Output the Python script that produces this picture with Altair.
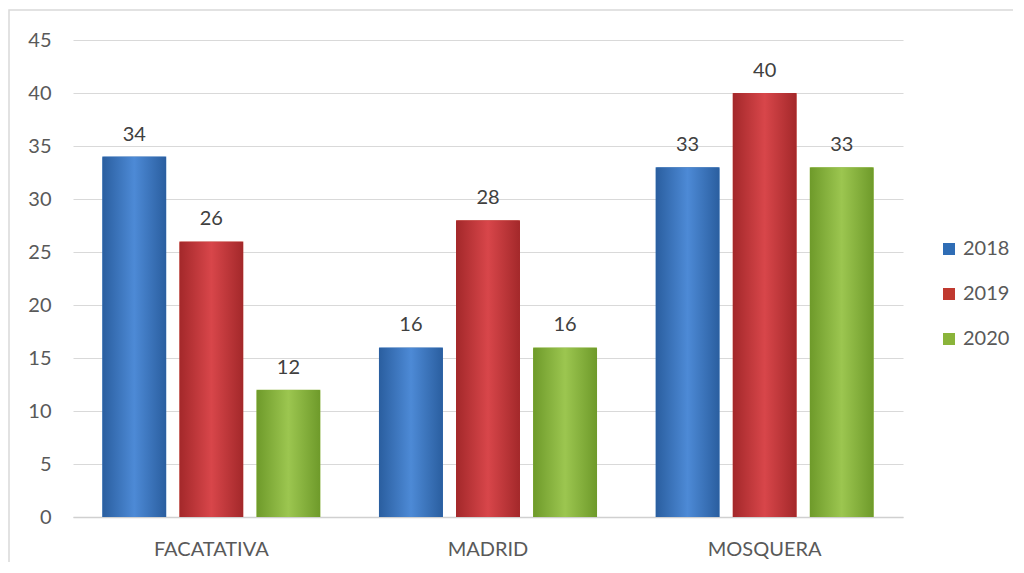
import altair as alt
import pandas as pd

municipios = ["FACATATIVA", "MADRID", "MOSQUERA"]
years = ["2018", "2019", "2020"]
v2018 = [34, 16, 33]
v2019 = [26, 28, 40]
v2020 = [12, 16, 33]
legend_colors = ["#2F6DB5", "#C0392F", "#8AB43A"]
gradients = {
    "2018": ["#2A5E9F", "#4D8AD6", "#2A5E9F"],
    "2019": ["#A3282A", "#D8464A", "#A3282A"],
    "2020": ["#6E9A2A", "#9CC650", "#6E9A2A"],
}

rows = []
for i, m in enumerate(municipios):
    for y, vals in zip(years, [v2018, v2019, v2020]):
        rows.append({"municipio": m, "anio": y, "valor": vals[i]})
df = pd.DataFrame(rows)

FONT = "Lato"
GRAY = "#595959"
FS = 20

x = alt.X("municipio:N", sort=municipios,
          scale=alt.Scale(paddingInner=0, paddingOuter=0),
          axis=alt.Axis(title=None, labelAngle=0, labelFontSize=FS, labelColor=GRAY,
                        labelFont=FONT, labelPadding=22, ticks=False, grid=False,
                        domainColor="#D0D0D0", domainWidth=1.5))
xo = alt.XOffset("anio:N", sort=years,
                 scale=alt.Scale(paddingInner=0.17, paddingOuter=0.38))
y = alt.Y("valor:Q", scale=alt.Scale(domain=[0, 45]),
          axis=alt.Axis(title=None, values=list(range(0, 50, 5)), domain=False, ticks=False,
                        labelFontSize=FS, labelColor=GRAY, labelFont=FONT, labelPadding=22,
                        gridColor="#D9D9D9", gridWidth=1))

base = alt.Chart(df)

bars = base.mark_bar().encode(
    x=x, xOffset=xo, y=y,
    color=alt.Color("anio:N", sort=years,
                    scale=alt.Scale(domain=years, range=legend_colors),
                    legend=alt.Legend(title=None, orient="none", legendX=866, legendY=199,
                                      symbolType="square", symbolSize=144,
                                      symbolStrokeWidth=0,
                                      labelFontSize=FS, labelColor=GRAY, labelFont=FONT,
                                      rowPadding=25, labelOffset=4)),
)

layers = [bars]
for yr in years:
    g = gradients[yr]
    grad = alt.LinearGradient(
        gradient="linear",
        stops=[alt.GradientStop(color=g[0], offset=0),
               alt.GradientStop(color=g[1], offset=0.5),
               alt.GradientStop(color=g[2], offset=1)],
        x1=0, x2=1, y1=0, y2=0)
    layers.append(
        base.transform_filter(alt.datum.anio == yr).mark_bar(
            fill=grad, cornerRadiusTopLeft=2, cornerRadiusTopRight=2
        ).encode(x=x, xOffset=xo, y=y)
    )

labels = base.mark_text(baseline="bottom", dy=-12, fontSize=FS, color="#404040", font=FONT).encode(
    x=x, xOffset=xo, y=y, text="valor:Q")
layers.append(labels)

frame = alt.Chart(alt.Data(values=[{}])).mark_rect(
    fillOpacity=0, stroke="#D9D9D9", strokeWidth=1.5
).encode(x=alt.value(-64), x2=alt.value(960), y=alt.value(-30), y2=alt.value(560))

chart = alt.layer(frame, *layers).properties(
    width=830, height=477,
    autosize=alt.AutoSizeParams(type="none"),
    padding={"left": 65, "top": 32, "right": 110, "bottom": 45},
).configure(background="white", view=alt.ViewConfig(stroke=None))

chart.save("out.html", embed_options={"renderer": "svg", "actions": False})
